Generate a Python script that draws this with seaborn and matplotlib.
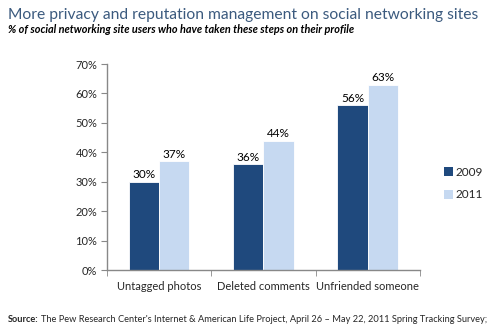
import matplotlib
matplotlib.use("Agg")
import matplotlib.pyplot as plt
import seaborn as sns
import pandas as pd
from matplotlib.patches import Patch

categories = ["Untagged photos", "Deleted comments", "Unfriended someone"]
years = ["2009", "2011"]
values_2009 = [30, 36, 56]
values_2011 = [37, 44, 63]
yticks = [0, 10, 20, 30, 40, 50, 60, 70]

df = pd.DataFrame({
    "category": categories * 2,
    "year": [years[0]] * 3 + [years[1]] * 3,
    "value": values_2009 + values_2011,
})

sns.set_style("white")
plt.rcParams['font.family'] = ['Lato', 'DejaVu Sans']

fig = plt.figure(figsize=(5.01, 3.32), dpi=100)
ax = fig.add_axes([0.2136, 0.1867, 0.6244, 0.6203])
palette = {"2009": "#1f497d", "2011": "#c6d9f1"}
sns.barplot(data=df, x="category", y="value", hue="year", palette=palette,
            width=0.58, ax=ax, legend=False, edgecolor="white", linewidth=0.6,
            saturation=1)

for cont in ax.containers:
    ax.bar_label(cont, labels=[f"{v:.0f}%" for v in cont.datavalues],
                 padding=1, fontsize=8.5, color="black")

ax.set_ylim(0, 70)
ax.set_xlim(-0.5, 2.5)
ax.set_yticks(yticks)
ax.set_yticklabels([f"{t}%" for t in yticks], fontsize=8)
ax.set_xticks([0, 1, 2])
ax.set_xticklabels(categories, fontsize=8)
ax.set_xlabel("")
ax.set_ylabel("")
for s in ["top", "right"]:
    ax.spines[s].set_visible(False)
for s in ["left", "bottom"]:
    ax.spines[s].set_color("#888888")
    ax.spines[s].set_linewidth(1)
ax.tick_params(axis="y", length=4, color="#888888", direction="out", left=True, pad=3)
ax.tick_params(axis="x", length=0, pad=8)
ax.set_xticks([-0.5, 0.5, 1.5, 2.5], minor=True)
ax.tick_params(axis="x", which="minor", length=4, color="#888888", direction="out", bottom=True)

handles = [Patch(facecolor=palette[y], edgecolor="none") for y in years]
fig.legend(handles, years, loc="upper left", bbox_to_anchor=(0.865, 0.53),
           frameon=False, fontsize=8.5, handlelength=0.8, handleheight=0.8,
           handletextpad=0.2, labelspacing=1.0)

renderer = fig.canvas.get_renderer()

def fit(t, target_px):
    w = t.get_window_extent(renderer=renderer).width
    t.set_fontsize(t.get_fontsize() * target_px / w)

title = fig.text(0.016, 0.955, "More privacy and reputation management on social networking sites",
                 fontsize=12, color="#3b5a7e", ha="left", va="center")
fit(title, 470)
sub = fig.text(0.016, 0.912, "% of social networking site users who have taken these steps on their profile",
               fontsize=7, style="italic", fontweight="bold", color="black", ha="left", va="center")
fit(sub, 350)

src = fig.text(0.016, 0.037, "Source:", fontsize=6.7, fontweight="bold", ha="left", va="center")
fig.canvas.draw()
bb = src.get_window_extent(renderer=renderer)
x1 = bb.x1 / fig.bbox.width
fig.text(x1 + 0.004, 0.037, "The Pew Research Center's Internet & American Life Project, April 26 \u2013 May 22, 2011 Spring Tracking Survey;",
         fontsize=6.7, ha="left", va="center")

fig.savefig("out.png", dpi=100)
